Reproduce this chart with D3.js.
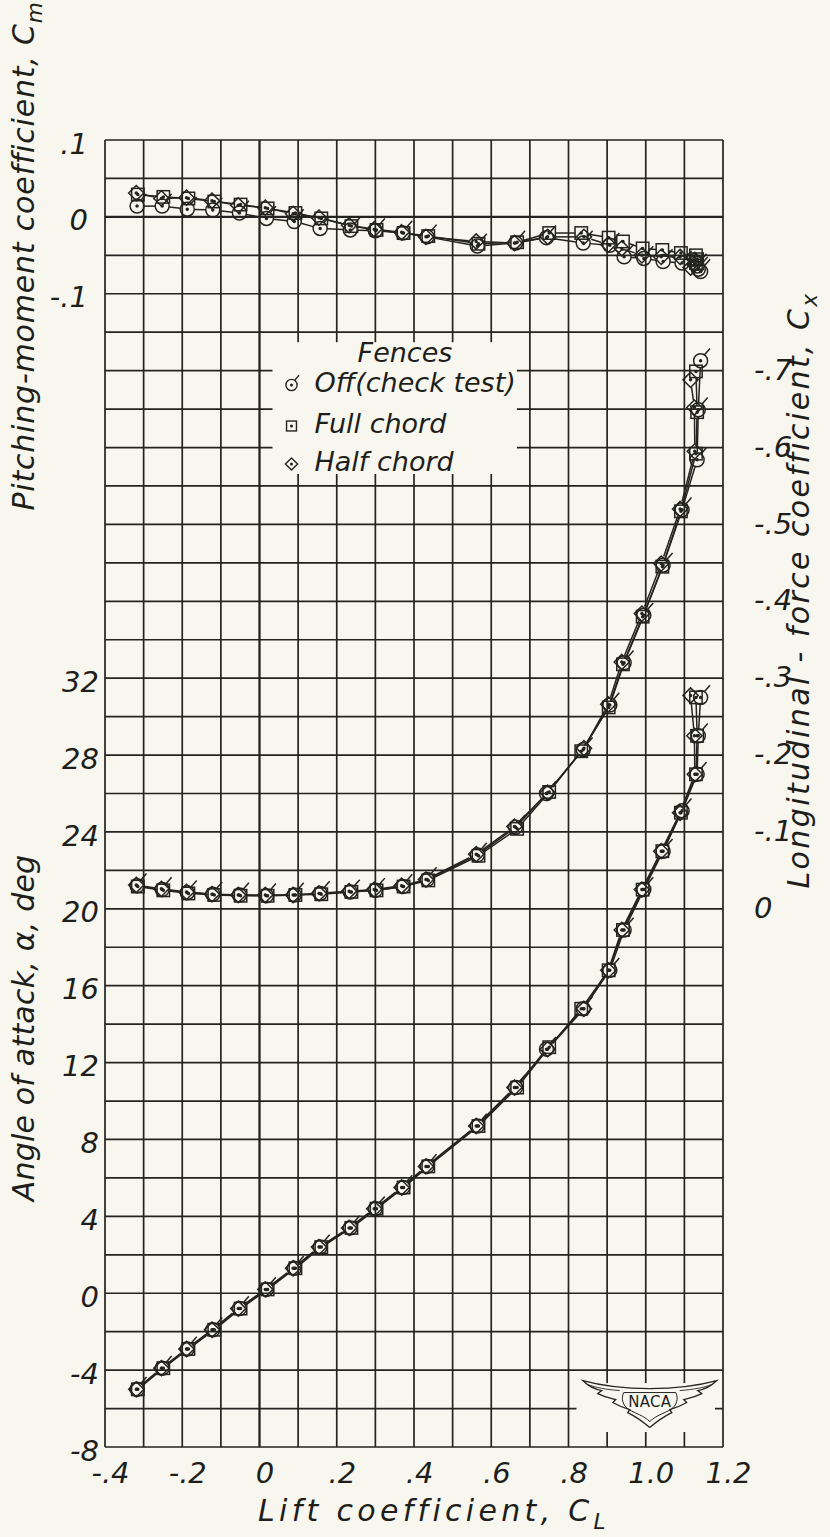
<!DOCTYPE html>
<html>
<head>
<meta charset="utf-8">
<script src="https://cdn.jsdelivr.net/npm/d3@7"></script>
<style>
  html, body { margin: 0; padding: 0; background: #f8f7ef; }
  svg { display: block; }
  text { font-family: "DejaVu Sans", sans-serif; font-style: italic; fill: #1e1e1b; }
  text.emblem { font-style: normal; }
</style>
</head>
<body>
<svg id="chart" width="830" height="1537"></svg>
<script>
// ---- Lift coefficient for each run, by fence configuration ----
const clOff  = [-0.317,-0.252,-0.187,-0.121,-0.052,0.018,0.090,0.157,0.235,0.300,0.371,0.434,0.564,0.663,0.743,0.838,0.907,0.944,0.995,1.045,1.094,1.133,1.136,1.142];
const clFull = [-0.315,-0.249,-0.184,-0.117,-0.049,0.021,0.093,0.160,0.238,0.303,0.373,0.437,0.567,0.667,0.750,0.833,0.904,0.941,0.992,1.043,1.091,1.130,1.133,1.130];
const clHalf = [-0.319,-0.254,-0.189,-0.123,-0.055,0.015,0.087,0.154,0.232,0.297,0.368,0.431,0.561,0.660,0.746,0.840,0.903,0.938,0.990,1.040,1.089,1.127,1.126,1.116];

// ---- Angle of attack, deg ----
const alphaOff  = [-5.0,-3.9,-2.9,-1.9,-0.8,0.2,1.3,2.4,3.4,4.4,5.5,6.6,8.7,10.7,12.7,14.8,16.8,18.9,21.0,23.0,25.1,27.0,29.0,31.0];
const alphaFull = [-5.0,-3.9,-2.9,-1.9,-0.8,0.2,1.3,2.4,3.4,4.4,5.5,6.6,8.7,10.7,12.8,14.8,16.8,18.9,21.0,23.0,25.0,27.0,29.0,31.0];
const alphaHalf = [-5.0,-3.9,-2.9,-1.9,-0.8,0.2,1.3,2.4,3.4,4.4,5.5,6.6,8.7,10.7,12.7,14.8,16.8,18.9,21.0,23.0,25.0,27.0,29.0,31.1];

// ---- Longitudinal-force coefficient, Cx ----
const cxOff  = [-0.030,-0.025,-0.021,-0.019,-0.018,-0.017,-0.018,-0.020,-0.022,-0.024,-0.029,-0.038,-0.070,-0.106,-0.150,-0.207,-0.265,-0.320,-0.382,-0.447,-0.519,-0.584,-0.649,-0.713];
const cxFull = [-0.029,-0.024,-0.020,-0.018,-0.017,-0.017,-0.018,-0.019,-0.022,-0.024,-0.029,-0.037,-0.069,-0.104,-0.152,-0.205,-0.262,-0.318,-0.380,-0.445,-0.517,-0.592,-0.646,-0.699];
const cxHalf = [-0.031,-0.026,-0.022,-0.019,-0.018,-0.018,-0.018,-0.020,-0.023,-0.025,-0.030,-0.038,-0.071,-0.107,-0.151,-0.209,-0.266,-0.321,-0.384,-0.449,-0.520,-0.595,-0.652,-0.688];

// ---- Pitching-moment coefficient, Cm ----
const cmOff  = [0.014,0.014,0.010,0.009,0.005,-0.002,-0.006,-0.015,-0.017,-0.018,-0.021,-0.026,-0.038,-0.034,-0.027,-0.034,-0.037,-0.052,-0.054,-0.058,-0.060,-0.064,-0.068,-0.071];
const cmFull = [0.029,0.026,0.024,0.020,0.016,0.011,0.005,-0.002,-0.012,-0.017,-0.021,-0.025,-0.035,-0.033,-0.021,-0.021,-0.027,-0.032,-0.041,-0.043,-0.047,-0.050,-0.055,-0.060];
const cmHalf = [0.031,0.024,0.025,0.021,0.015,0.012,0.004,-0.001,-0.011,-0.016,-0.020,-0.026,-0.032,-0.034,-0.026,-0.026,-0.036,-0.041,-0.050,-0.052,-0.052,-0.056,-0.062,-0.066];

// ---- Tick labels ----
const clTicks     = [-0.4,-0.2,0,0.2,0.4,0.6,0.8,1.0,1.2];
const clTickText  = ["-.4","-.2","0",".2",".4",".6",".8","1.0","1.2"];
const alphaTicks  = [-8,-4,0,4,8,12,16,20,24,28,32];
const cmTicks     = [0.1,0,-0.1];
const cmTickText  = [".1","0","-.1"];
const cxTicks     = [0,-0.1,-0.2,-0.3,-0.4,-0.5,-0.6,-0.7];
const cxTickText  = ["0","-.1","-.2","-.3","-.4","-.5","-.6","-.7"];

const legendNames = ["Off(check test)","Full chord","Half chord"];

(function draw() {
  const svg = d3.select("#chart");
  const ink = "#23231f";
  const paper = "#f8f7ef";
  const gL = 105, gR = 723, gT = 140, gB = 1447;

  const x      = d3.scaleLinear().domain([-0.4, 1.2]).range([gL, gR]);
  const yAlpha = d3.scaleLinear().domain([-8, 60]).range([gB, gT]);
  const yCm    = d3.scaleLinear().domain([-1.6, 0.1]).range([gB, gT]);
  const yCx    = d3.scaleLinear().domain([0.7, -1.0]).range([gB, gT]);

  svg.append("rect").attr("width", 830).attr("height", 1537).attr("fill", paper);

  // grid: 0.1 in CL by 2 deg in angle of attack
  const grid = svg.append("g").attr("stroke", ink).attr("fill", "none");
  d3.range(0, 17).forEach(k => {
    const v = -0.4 + k * 0.1;
    grid.append("line")
      .attr("x1", x(v)).attr("x2", x(v)).attr("y1", gT).attr("y2", gB)
      .attr("stroke-width", k === 4 ? 2.3 : 1.7);
  });
  d3.range(0, 35).forEach(k => {
    const v = -8 + k * 2;
    grid.append("line")
      .attr("x1", gL).attr("x2", gR).attr("y1", yAlpha(v)).attr("y2", yAlpha(v))
      .attr("stroke-width", v === 56 ? 2.3 : 1.7);
  });

  // legend panel and emblem panel clear the grid, leaving short stubs at the edges
  svg.append("rect")
    .attr("x", x(0) + 13).attr("y", yCm(-0.15) + 10)
    .attr("width", x(0.7) - x(0) - 26).attr("height", yCm(-0.35) - yCm(-0.15) - 22)
    .attr("fill", paper);
  svg.append("rect")
    .attr("x", x(0.8) + 8).attr("y", yAlpha(-4) + 13)
    .attr("width", x(1.2) - x(0.8) - 16).attr("height", yAlpha(-8) - yAlpha(-4) - 28)
    .attr("fill", paper);

  // axes
  const tickFont = 29;
  function style(g, dy) {
    g.select(".domain").remove();
    g.selectAll("text").attr("font-size", tickFont).attr("font-family", null)
      .attr("fill", ink).attr("dy", dy);
  }
  style(svg.append("g").attr("transform", `translate(5,${gB + 12})`)
    .call(d3.axisBottom(x).tickValues(clTicks).tickSize(0)
      .tickFormat((d, i) => clTickText[i])), "0.71em");
  style(svg.append("g").attr("transform", `translate(${gL - 3},0)`)
    .call(d3.axisLeft(yAlpha).tickValues(alphaTicks).tickSize(0)
      .tickFormat(d => String(d))), "0.45em");
  style(svg.append("g").attr("transform", `translate(${gL - 14},0)`)
    .call(d3.axisLeft(yCm).tickValues(cmTicks).tickSize(0)
      .tickFormat((d, i) => cmTickText[i])), "0.45em");
  style(svg.append("g").attr("transform", `translate(${gR + 28},0)`)
    .call(d3.axisRight(yCx).tickValues(cxTicks).tickSize(0)
      .tickFormat((d, i) => cxTickText[i])), "0.3em");

  // axis titles
  function title(tx, ty, rot, main, sub, size, spacing) {
    const t = svg.append("text")
      .attr("transform", `translate(${tx},${ty}) rotate(${rot})`)
      .attr("text-anchor", "middle").attr("font-size", size)
      .attr("letter-spacing", spacing);
    t.append("tspan").text(main);
    if (sub) t.append("tspan").attr("font-size", size * 0.72).attr("dy", size * 0.25).text(sub);
  }
  title(434, 1521, 0, "Lift coefficient, C", "L", 30, 4.3);
  title(34, 256, -90, "Pitching-moment coefficient, C", "m", 30, 0.8);
  title(34, 1028, -90, "Angle of attack, α, deg", null, 30, 0.2);
  title(809, 590, -90, "Longitudinal - force coefficient, C", "x", 30, 2.4);

  // symbols
  const radius = { circle: 7, square: 6.2, diamond: 7.6 };
  function marker(g, shape, px, py, s) {
    const k = s || 1;
    if (shape === "circle") {
      const r = radius.circle * k;
      g.append("circle").attr("cx", px).attr("cy", py).attr("r", r);
      g.append("line")
        .attr("x1", px + r * 0.55).attr("y1", py - r * 0.83)
        .attr("x2", px + r * 1.35).attr("y2", py - r * 1.75);
    } else if (shape === "square") {
      const h = radius.square * k;
      g.append("rect").attr("x", px - h).attr("y", py - h).attr("width", 2 * h).attr("height", 2 * h);
    } else {
      const h = radius.diamond * k;
      g.append("path").attr("d", `M${px},${py - h}L${px + h},${py}L${px},${py + h}L${px - h},${py}Z`);
    }
    g.append("circle").attr("cx", px).attr("cy", py).attr("r", 1 * k).attr("fill", ink);
  }

  const series = [
    { shape: "circle",  cl: clOff,  alpha: alphaOff,  cx: cxOff,  cm: cmOff  },
    { shape: "square",  cl: clFull, alpha: alphaFull, cx: cxFull, cm: cmFull },
    { shape: "diamond", cl: clHalf, alpha: alphaHalf, cx: cxHalf, cm: cmHalf }
  ];

  const lineLayer = svg.append("g").attr("stroke", ink).attr("stroke-width", 1.5);
  const markLayer = svg.append("g").attr("stroke", ink).attr("stroke-width", 1.5).attr("fill", "none");

  series.forEach(s => {
    [[s.alpha, yAlpha], [s.cx, yCx], [s.cm, yCm]].forEach(([vals, ys]) => {
      const pts = s.cl.map((c, i) => [x(c), ys(vals[i])]);
      const r = radius[s.shape];
      // connecting segments stop at the symbol outlines
      for (let i = 1; i < pts.length; i++) {
        const [x0, y0] = pts[i - 1], [x1, y1] = pts[i];
        const dx = x1 - x0, dy = y1 - y0, d = Math.hypot(dx, dy);
        if (d <= 2 * r) continue;
        const ux = dx / d, uy = dy / d;
        lineLayer.append("line")
          .attr("x1", x0 + ux * r).attr("y1", y0 + uy * r)
          .attr("x2", x1 - ux * r).attr("y2", y1 - uy * r);
      }
      pts.forEach(p => marker(markLayer, s.shape, p[0], p[1]));
    });
  });

  // legend
  const lg = svg.append("g");
  const lgX = x(0) + 32, lgTextX = x(0) + 55;
  lg.append("text").attr("x", 405).attr("y", 362).attr("text-anchor", "middle")
    .attr("font-size", 27).text("Fences");
  const lgRows = [392, 433, 471];
  series.forEach((s, i) => {
    const g = lg.append("g").attr("stroke", ink).attr("stroke-width", 1.4).attr("fill", "none");
    marker(g, s.shape, lgX, lgRows[i] - 7, 0.8);
    lg.append("text").attr("x", lgTextX).attr("y", lgRows[i]).attr("font-size", 27)
      .text(legendNames[i]);
  });

  // NACA emblem
  const ex = x(1.0) + 4, ey = yAlpha(-6) - 8;
  const wing = "M0,-12 C20,-12 45,-14 67,-20 C60,-13 54,-11 48,-10 L52,-7 C44,-3 38,-2 34,-1 L37,2 C30,6 24,8 20,9 L22,12 C14,16 8,20 0,27";
  const emb = svg.append("g").attr("transform", `translate(${ex},${ey})`)
    .attr("fill", "none").attr("stroke", ink).attr("stroke-width", 1.3);
  emb.append("path").attr("d", wing);
  emb.append("path").attr("d", wing).attr("transform", "scale(-1,1)");
  emb.append("path").attr("d", "M-26,-8 L26,-8 C29,-2 27,5 21,9 C14,13 6,15 0,21 C-6,15 -14,13 -21,9 C-27,5 -29,-2 -26,-8 Z")
    .attr("stroke-width", 1);
  emb.append("path").attr("d", "M30,-10 C44,-11 54,-13 62,-16 M-30,-10 C-44,-11 -54,-13 -62,-16")
    .attr("stroke-width", 0.9);
  svg.append("text").attr("class", "emblem").attr("x", ex).attr("y", ey + 6)
    .attr("text-anchor", "middle").attr("font-size", 15).attr("letter-spacing", 0.3)
    .text("NACA");
})();
</script>
</body>
</html>
